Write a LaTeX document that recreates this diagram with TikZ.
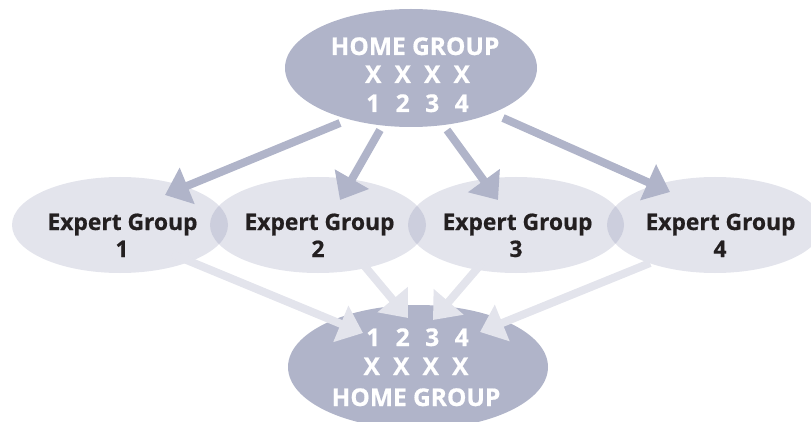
\documentclass[tikz,border=0pt]{standalone}
\usepackage{fontspec}
\setmainfont{Open Sans}[BoldFeatures={FakeBold=0.6}]
\usetikzlibrary{arrows.meta,shapes.geometric}
\definecolor{homeblue}{RGB}{176,180,201}
\definecolor{expbase}{RGB}{115,120,160}
\definecolor{lightarrow}{RGB}{227,228,236}
\definecolor{darktext}{RGB}{35,31,32}
\newcommand\fourcols[4]{\makebox[29.5pt]{#1}\makebox[29.5pt]{#2}\makebox[29.5pt]{#3}\makebox[29.5pt]{#4}}
\begin{document}
\begin{tikzpicture}[x=1pt,y=-1pt,
  homeell/.style={ellipse, fill=homeblue, inner sep=0pt, minimum width=252pt, minimum height=118pt},
  expell/.style={ellipse, fill=expbase, fill opacity=0.2, inner sep=0pt, minimum width=216pt, minimum height=96pt},
  hometext/.style={text=white, font=\bfseries\fontsize{24.5}{28}\selectfont, anchor=base, inner sep=0pt},
  exptext/.style={text=darktext, font=\bfseries\fontsize{22.8}{28}\selectfont, anchor=base, inner sep=0pt},
  toparrow/.style={draw=homeblue, line width=8pt, -{Triangle[length=24pt,width=38pt]}},
  botarrow/.style={draw=lightarrow, line width=8pt, -{Triangle[length=24pt,width=38pt]}}]
\useasboundingbox (0,0) rectangle (811,422);
\clip (0,0) rectangle (811,422);
% ellipses
\node[homeell] (top) at (411,68) {};
\node[homeell, minimum width=260pt, minimum height=124pt] (bot) at (418,367) {};
\node[expell] (e1) at (120,225) {};
\node[expell] (e2) at (318,225) {};
\node[expell] (e3) at (516,225) {};
\node[expell] (e4) at (715,225) {};
% arrow end points
\coordinate (t1s) at (340,123); \coordinate (t1e) at (165,195);
\coordinate (t2s) at (380,130); \coordinate (t2e) at (340,200);
\coordinate (t3s) at (447,130); \coordinate (t3e) at (498,200);
\coordinate (t4s) at (503,118); \coordinate (t4e) at (670,192);
\coordinate (b1s) at (172,254); \coordinate (b1e) at (363,333);
\coordinate (b2s) at (362,263); \coordinate (b2e) at (408,318);
\coordinate (b3s) at (482,263); \coordinate (b3e) at (433,320);
\coordinate (b4s) at (650,263); \coordinate (b4e) at (480,332);
\draw[toparrow] (t1s) -- (t1e);
\draw[toparrow] (t2s) -- (t2e);
\draw[toparrow] (t3s) -- (t3e);
\draw[toparrow] (t4s) -- (t4e);
\draw[botarrow] (b1s) -- (b1e);
\draw[botarrow] (b2s) -- (b2e);
\draw[botarrow] (b3s) -- (b3e);
\draw[botarrow] (b4s) -- (b4e);
% texts
\node[hometext] (th) at (415,55) {HOME GROUP};
\node[hometext] (tx) at (417.5,83) {\fourcols{X}{X}{X}{X}};
\node[hometext] (tn) at (417.5,112) {\fourcols{1}{2}{3}{4}};
\node[hometext] (bn) at (417.5,346) {\fourcols{1}{2}{3}{4}};
\node[hometext] (bx) at (416,375) {\fourcols{X}{X}{X}{X}};
\node[hometext] (bh) at (416,406) {HOME GROUP};
\node[exptext] (l1) at (122.5,230) {Expert Group};
\node[exptext] (n1) at (122,257) {1};
\node[exptext] (l2) at (319.5,230) {Expert Group};
\node[exptext] (n2) at (318,257) {2};
\node[exptext] (l3) at (517.5,230) {Expert Group};
\node[exptext] (n3) at (516,257) {3};
\node[exptext] (l4) at (720.5,230) {Expert Group};
\node[exptext] (n4) at (720,257) {4};
\end{tikzpicture}
\end{document}
